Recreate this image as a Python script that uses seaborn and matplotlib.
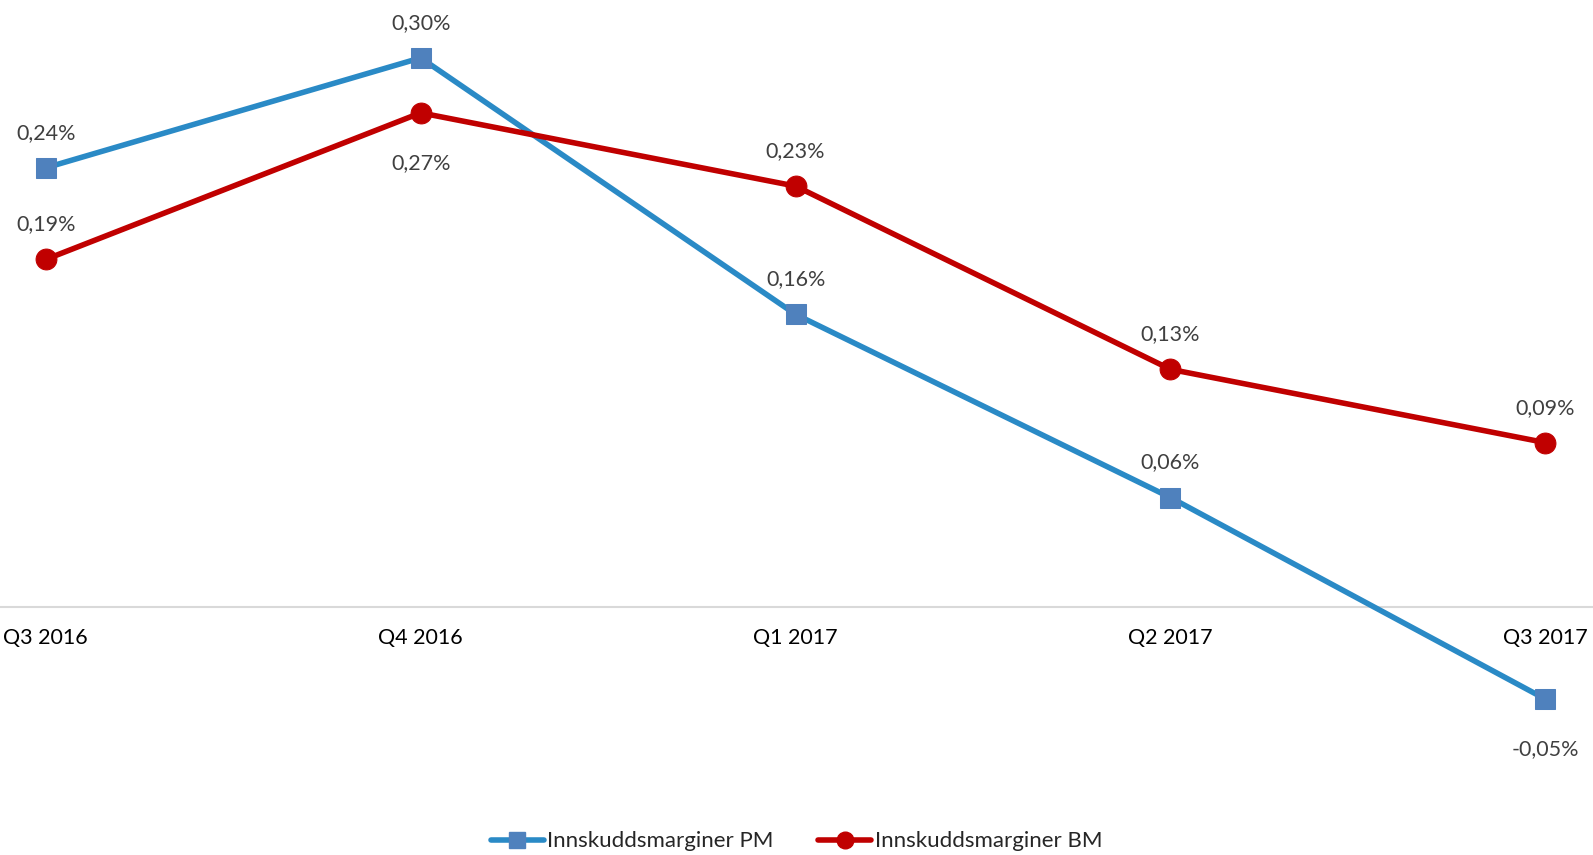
import matplotlib
matplotlib.use("Agg")
import matplotlib.pyplot as plt
import seaborn as sns
import pandas as pd

categories = ["Q3 2016", "Q4 2016", "Q1 2017", "Q2 2017", "Q3 2017"]
pm_values = [0.24, 0.30, 0.16, 0.06, -0.05]
bm_values = [0.19, 0.27, 0.23, 0.13, 0.09]
pm_label_pos = ["above", "above", "above", "above", "below"]
bm_label_pos = ["above", "below", "above", "above", "above"]

sns.set_theme(style="white")
plt.rcParams["font.family"] = ["Lato", "DejaVu Sans"]

fig = plt.figure(figsize=(15.93, 8.55), dpi=100)
ax = fig.add_axes([0, 0, 1, 1])

x = list(range(len(categories)))
df = pd.DataFrame({"x": x * 2,
                   "value": pm_values + bm_values,
                   "series": ["Innskuddsmarginer PM"] * 5 + ["Innskuddsmarginer BM"] * 5})

line_colors = {"Innskuddsmarginer PM": "#2A8AC6", "Innskuddsmarginer BM": "#C00000"}
marker_colors = {"Innskuddsmarginer PM": "#4F81BD", "Innskuddsmarginer BM": "#C00000"}
markers = {"Innskuddsmarginer PM": "s", "Innskuddsmarginer BM": "o"}

ax.axhline(0, color="#D9D9D9", lw=1.5, zorder=1)

handles = []
for name in ["Innskuddsmarginer PM", "Innskuddsmarginer BM"]:
    sub = df[df.series == name]
    sns.lineplot(data=sub, x="x", y="value", ax=ax, color=line_colors[name], lw=4,
                 marker=markers[name], markersize=15 if markers[name] == "o" else 14,
                 markerfacecolor=marker_colors[name], markeredgecolor=marker_colors[name],
                 legend=False, zorder=3)
    handles.append(plt.Line2D([], [], color=line_colors[name], lw=4, marker=markers[name],
                              markersize=12, markerfacecolor=marker_colors[name],
                              markeredgecolor=marker_colors[name], label=name))

def fmt(v):
    return f"{v:.2f}".replace(".", ",") + "%"

for vals, poss in [(pm_values, pm_label_pos), (bm_values, bm_label_pos)]:
    for xi, v, p in zip(x, vals, poss):
        off = 35 if p == "above" else -50
        ax.annotate(fmt(v), (xi, v), xytext=(0, off), textcoords="offset pixels",
                    ha="center", va="center", fontsize=15.5, color="#404040")

for xi, c in zip(x, categories):
    ax.annotate(c, (xi, 0), xytext=(0, -31), textcoords="offset pixels",
                ha="center", va="center", fontsize=15.5, color="black")

ax.set_xlim(-0.122, 4.127)
ax.set_ylim(-0.1351, 0.3316)
ax.axis("off")

fig.legend(handles=handles, loc="center", bbox_to_anchor=(0.5, 0.016), ncol=2,
           frameon=False, fontsize=16, handlelength=2.4, columnspacing=2.0, handletextpad=0.15)

fig.savefig("out.png", dpi=100)
